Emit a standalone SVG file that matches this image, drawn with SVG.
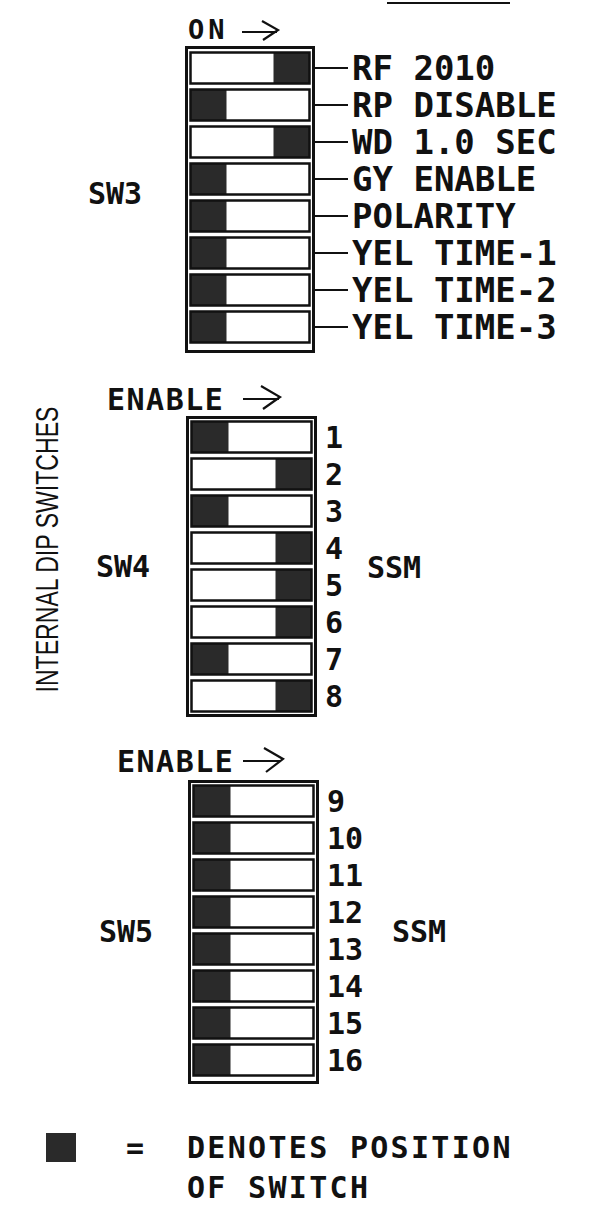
<svg xmlns="http://www.w3.org/2000/svg" width="590" height="1217" viewBox="0 0 590 1217">
<style>
.bg{fill:#ffffff}
.frame{fill:#ffffff;stroke:#111;stroke-width:3}
.cell{fill:none;stroke:#111;stroke-width:2.5}
.dark{fill:#2a2a2a}
.lbl{font-family:"DejaVu Sans Mono","Liberation Mono",monospace;font-weight:bold;fill:#111}
.big{font-size:34px}
.mid{font-size:30px}
.ln{stroke:#111;stroke-width:2.2;fill:none}
.side{font-family:"Liberation Sans",Arial,sans-serif;font-size:32px;fill:#111}
</style>
<rect class="bg" x="0" y="0" width="590" height="1217"/>
<line class="ln" x1="387" y1="3" x2="510" y2="3"/>

<g id="sw3">
  <text class="lbl" x="188" y="39" font-size="27" font-weight="normal" letter-spacing="4">ON</text>
  <path class="ln" d="M242,32 H277 M262,21 L278,30 L263,40"/>
  <rect class="frame" x="186.5" y="47.5" width="127" height="304"/>
  <rect class="dark" x="273.5" y="52.5" width="36" height="31"/><rect class="cell" x="190.5" y="52.5" width="119" height="31"/>
  <rect class="dark" x="190.5" y="89.5" width="36" height="31"/><rect class="cell" x="190.5" y="89.5" width="119" height="31"/>
  <rect class="dark" x="273.5" y="126.5" width="36" height="31"/><rect class="cell" x="190.5" y="126.5" width="119" height="31"/>
  <rect class="dark" x="190.5" y="163.5" width="36" height="31"/><rect class="cell" x="190.5" y="163.5" width="119" height="31"/>
  <rect class="dark" x="190.5" y="200.5" width="36" height="31"/><rect class="cell" x="190.5" y="200.5" width="119" height="31"/>
  <rect class="dark" x="190.5" y="237.5" width="36" height="31"/><rect class="cell" x="190.5" y="237.5" width="119" height="31"/>
  <rect class="dark" x="190.5" y="274.5" width="36" height="31"/><rect class="cell" x="190.5" y="274.5" width="119" height="31"/>
  <rect class="dark" x="190.5" y="311.5" width="36" height="31"/><rect class="cell" x="190.5" y="311.5" width="119" height="31"/>
  <text class="lbl mid" x="88" y="204">SW3</text>
  <g class="lbl big">
    <text x="352" y="80">RF 2010</text>
    <text x="352" y="117">RP DISABLE</text>
    <text x="352" y="154">WD 1.0 SEC</text>
    <text x="352" y="191">GY ENABLE</text>
    <text x="352" y="228">POLARITY</text>
    <text x="352" y="265">YEL TIME-1</text>
    <text x="352" y="302">YEL TIME-2</text>
    <text x="352" y="339">YEL TIME-3</text>
  </g>
</g>

<g id="connectors">
  <path class="ln" d="M315,68 H348 M315,105 H348 M315,142 H348 M315,179 H348 M315,216 H348 M315,253 H348 M315,290 H348 M315,327 H348"/>
</g>

<text class="side" transform="translate(58,549.5) rotate(-90)" text-anchor="middle" textLength="286" lengthAdjust="spacingAndGlyphs">INTERNAL DIP SWITCHES</text>

<g id="sw4">
  <text class="lbl mid" x="107" y="410" letter-spacing="1.5" font-weight="normal">ENABLE</text>
  <path class="ln" d="M243,399 H279 M261,386 L280,397 L263,409"/>
  <rect class="frame" x="187.5" y="417.5" width="128" height="298"/>
  <rect class="dark" x="191.5" y="421.5" width="37" height="31"/><rect class="cell" x="191.5" y="421.5" width="120" height="31"/>
  <rect class="dark" x="275.5" y="458.5" width="36" height="31"/><rect class="cell" x="191.5" y="458.5" width="120" height="31"/>
  <rect class="dark" x="191.5" y="495.5" width="37" height="31"/><rect class="cell" x="191.5" y="495.5" width="120" height="31"/>
  <rect class="dark" x="275.5" y="532.5" width="36" height="31"/><rect class="cell" x="191.5" y="532.5" width="120" height="31"/>
  <rect class="dark" x="275.5" y="569.5" width="36" height="31"/><rect class="cell" x="191.5" y="569.5" width="120" height="31"/>
  <rect class="dark" x="275.5" y="606.5" width="36" height="31"/><rect class="cell" x="191.5" y="606.5" width="120" height="31"/>
  <rect class="dark" x="191.5" y="643.5" width="37" height="31"/><rect class="cell" x="191.5" y="643.5" width="120" height="31"/>
  <rect class="dark" x="275.5" y="680.5" width="36" height="31"/><rect class="cell" x="191.5" y="680.5" width="120" height="31"/>
  <text class="lbl mid" x="96" y="577">SW4</text>
  <text class="lbl mid" x="367" y="578">SSM</text>
  <g class="lbl mid">
    <text x="325" y="448">1</text>
    <text x="325" y="485">2</text>
    <text x="325" y="522">3</text>
    <text x="325" y="559">4</text>
    <text x="325" y="596">5</text>
    <text x="325" y="633">6</text>
    <text x="325" y="670">7</text>
    <text x="325" y="707">8</text>
  </g>
</g>

<g id="sw5">
  <text class="lbl mid" x="117" y="772" letter-spacing="1.5" font-weight="normal">ENABLE</text>
  <path class="ln" d="M243,761 H281 M264,748 L283,759 L266,772"/>
  <rect class="frame" x="189.5" y="781.5" width="128" height="301"/>
  <rect class="dark" x="193.5" y="785.5" width="37" height="31"/><rect class="cell" x="193.5" y="785.5" width="120" height="31"/>
  <rect class="dark" x="193.5" y="822.5" width="37" height="31"/><rect class="cell" x="193.5" y="822.5" width="120" height="31"/>
  <rect class="dark" x="193.5" y="859.5" width="37" height="31"/><rect class="cell" x="193.5" y="859.5" width="120" height="31"/>
  <rect class="dark" x="193.5" y="896.5" width="37" height="31"/><rect class="cell" x="193.5" y="896.5" width="120" height="31"/>
  <rect class="dark" x="193.5" y="933.5" width="37" height="31"/><rect class="cell" x="193.5" y="933.5" width="120" height="31"/>
  <rect class="dark" x="193.5" y="970.5" width="37" height="31"/><rect class="cell" x="193.5" y="970.5" width="120" height="31"/>
  <rect class="dark" x="193.5" y="1007.5" width="37" height="31"/><rect class="cell" x="193.5" y="1007.5" width="120" height="31"/>
  <rect class="dark" x="193.5" y="1044.5" width="37" height="31"/><rect class="cell" x="193.5" y="1044.5" width="120" height="31"/>
  <text class="lbl mid" x="99" y="942">SW5</text>
  <text class="lbl mid" x="392" y="942">SSM</text>
  <g class="lbl mid">
    <text x="327" y="812">9</text>
    <text x="327" y="849">10</text>
    <text x="327" y="886">11</text>
    <text x="327" y="923">12</text>
    <text x="327" y="960">13</text>
    <text x="327" y="997">14</text>
    <text x="327" y="1034">15</text>
    <text x="327" y="1071">16</text>
  </g>
</g>

<g id="legend">
  <rect class="dark" x="46" y="1133" width="30" height="29"/>
  <text class="lbl mid" x="126" y="1158" font-weight="normal">=</text>
  <text class="lbl mid" x="187" y="1158" letter-spacing="2.3">DENOTES POSITION</text>
  <text class="lbl mid" x="187" y="1198" letter-spacing="2.3">OF SWITCH</text>
</g>
</svg>
